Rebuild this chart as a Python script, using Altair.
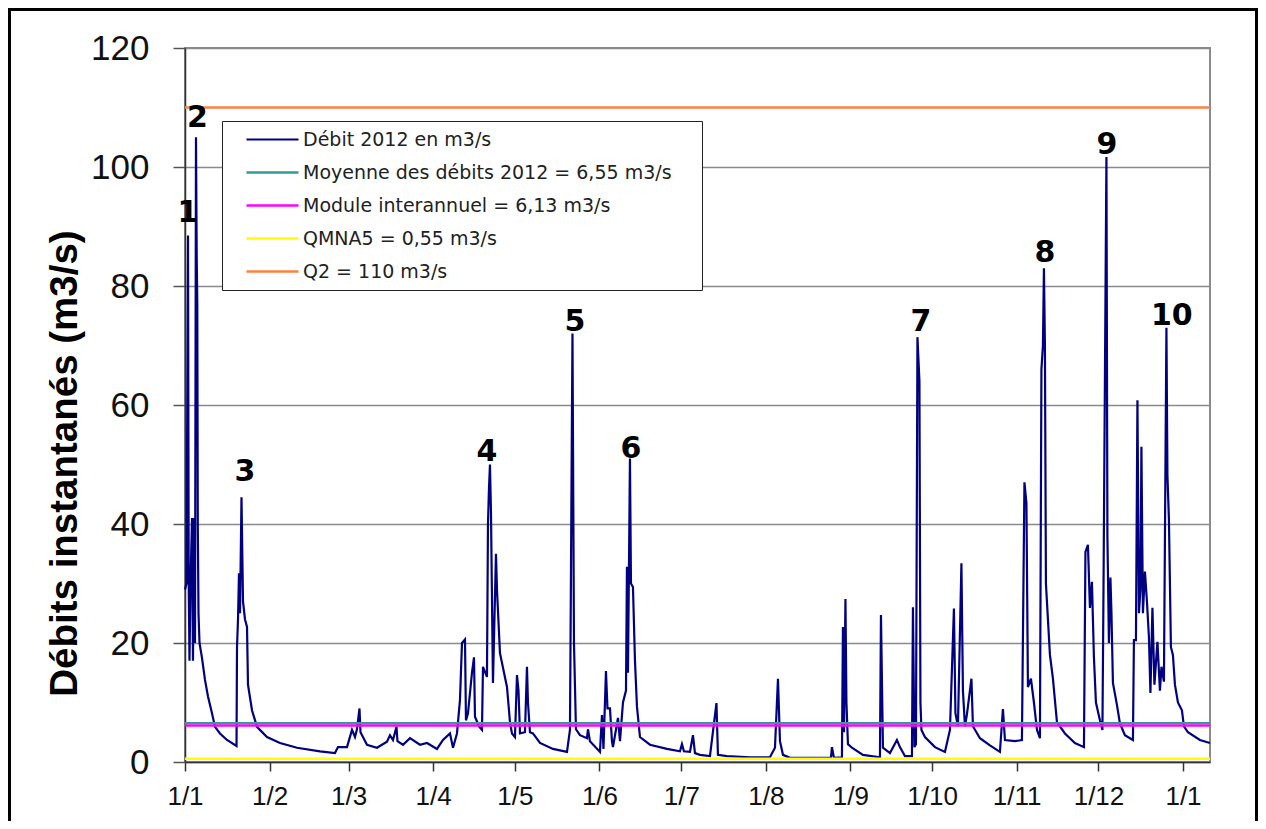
import altair as alt
import pandas as pd

# ---- data ----
# days since 2012-01-01 (fractional), instantaneous flow in m3/s
days = [0.00, 0.55, 0.92, 1.10, 1.36, 1.65, 2.02, 2.57, 2.93, 3.30, 3.67, 4.03, 4.29, 4.51, 4.69,
        4.95, 5.32, 6.23, 7.33, 8.43, 9.90, 11.00, 12.83, 15.40, 18.89, 19.07, 19.44, 19.80, 20.17,
        20.72, 21.27, 22.00, 22.74, 23.10, 24.57, 26.40, 30.07, 34.84, 41.07, 49.50, 55.00, 56.10,
        59.41, 61.24, 62.34, 63.07, 63.99, 64.36, 66.74, 70.41, 74.07, 75.17, 76.27, 77.56, 77.92,
        79.94, 82.51, 86.18, 88.74, 92.41, 94.61, 97.18, 98.28, 99.74, 100.84, 101.58, 102.68,
        103.04, 103.78, 105.24, 105.98, 106.34, 107.81, 108.91, 109.28, 110.74, 111.11, 111.48,
        111.84, 112.21, 112.94, 114.04, 114.41, 115.51, 118.08, 119.18, 119.91, 121.01, 121.75,
        122.30, 122.85, 124.68, 125.41, 125.78, 126.51, 127.61, 130.18, 134.95, 140.08, 141.18,
        142.10, 142.65, 143.38, 144.85, 147.41, 147.78, 148.51, 152.18, 152.92, 153.47, 154.38,
        154.93, 155.85, 156.58, 156.95, 158.78, 159.52, 160.62, 161.72, 162.08, 162.45, 162.82,
        163.18, 163.55, 164.28, 165.02, 165.75, 166.85, 170.52, 176.75, 181.52, 182.25, 182.98,
        185.18, 186.28, 187.02, 188.85, 192.52, 194.90, 195.45, 198.75, 207.19, 214.52, 216.36,
        217.46, 218.19, 219.29, 221.86, 236.89, 237.26, 237.99, 240.92, 241.29, 241.66, 242.21,
        242.57, 243.12, 244.59, 248.62, 254.86, 255.23, 255.96, 258.53, 261.09, 262.19, 264.03,
        266.59, 266.96, 267.51, 268.06, 268.61, 269.34, 269.71, 270.08, 271.36, 275.03, 278.69,
        280.53, 281.99, 282.54, 283.46, 284.74, 285.29, 286.03, 286.76, 288.41, 288.96, 291.53,
        295.20, 298.86, 299.96, 300.70, 304.36, 306.93, 307.85, 308.58, 309.13, 310.23, 311.33,
        312.43, 313.53, 314.08, 314.63, 315.00, 315.36, 315.73, 317.20, 318.30, 319.77, 322.70,
        326.37, 329.67, 330.22, 331.13, 331.87, 332.60, 333.33, 334.07, 335.53, 336.45, 336.82,
        337.92, 338.28, 338.83, 339.38, 339.75, 340.30, 341.77, 342.87, 344.70, 347.64, 348.00,
        348.74, 349.29, 349.84, 350.39, 350.75, 351.30, 352.04, 352.77, 353.50, 354.05, 354.79,
        355.52, 356.62, 357.54, 358.09, 359.00, 359.92, 360.29, 360.84, 361.57, 362.30, 363.04,
        364.14, 365.60, 366.34, 367.81, 372.20, 375.87]
flow = [29, 30, 70, 88.5, 30, 17, 30, 41, 17, 41, 20, 105, 85, 77, 40,
        25, 20, 17.5, 13.8, 11, 8.2, 5.9, 4.8, 3.7, 2.7, 19.3, 24, 31.7, 25,
        44.5, 27, 24, 22.7, 13, 8.7, 5.9, 4.2, 3.2, 2.4, 1.8, 1.5, 2.5,
        2.5, 5.4, 4.2, 5.5, 9, 5, 2.9, 2.4, 3.4, 4.5, 3.7, 5.9, 3.5,
        2.9, 4, 2.9, 3.2, 2.2, 3.7, 4.8, 2.4, 4.8, 10.4, 20, 20.6,
        7, 8.2, 15, 17.6, 7.6, 6, 5.4, 16, 14.3, 40, 46,
        50, 42, 13.3, 35, 29, 18.3, 12.6, 6.7, 4.8, 4.2, 14.6,
        12, 4.8, 5, 16, 10, 5, 4.8, 3.2, 2.2, 1.7, 5.4,
        72, 20, 5.5, 4.5, 4, 5.5, 3.5, 1.7, 7.9, 2.2, 15.3,
        9, 9, 3.5, 2.5, 7.4, 3.5, 10, 12, 32.8, 15, 33,
        51, 30, 29.4, 17, 9.3, 4.2, 2.9, 2.2, 1.8, 3, 1.8,
        1.7, 4.5, 1.5, 1.2, 1, 9.9, 1.2, 1, 0.8, 0.8, 2.4,
        14, 3.5, 1.2, 0.7, 0.7, 2.5, 0.7, 0.8, 22.7, 5, 27.4,
        10, 3, 2.4, 1.2, 0.8, 24.7, 2.4, 1.5, 3.7, 2.5, 1,
        1, 26, 2.5, 3, 71.4, 64, 10, 5.4, 4.2, 2.5, 1.7,
        5.4, 25.8, 8.2, 6, 33.4, 12, 6, 8, 14, 6, 4,
        2.8, 1.7, 8.9, 3.7, 3.5, 3.7, 47, 43.5, 12.6, 14, 10,
        5.4, 4, 66, 70, 83, 70, 30, 18, 14, 6.7, 4.8,
        3.2, 2.5, 35.3, 36.5, 25.9, 30.3, 17.6, 10, 7, 5.4, 27.7,
        101.7, 38, 20, 31, 25.2, 13.3, 9.6, 6.5, 4.5, 3.7, 20.5,
        20.5, 60.8, 25, 29, 53, 25, 32, 27, 21, 11.6, 25.9,
        13, 20.2, 12, 16, 13.5, 73, 48.2, 40.7, 19.3, 18, 13,
        10, 8.7, 6, 5, 3.7, 3.2]

flow_label = "Débit 2012 en m3/s"
ref_labels = ["Moyenne des débits 2012 = 6,55 m3/s",
              "Module interannuel = 6,13 m3/s",
              "QMNA5 = 0,55 m3/s",
              "Q2 = 110 m3/s"]
ref_values = [6.55, 6.13, 0.55, 110]

peak_names = ["1", "2", "3", "4", "5", "6", "7", "8", "9", "10"]
peak_days = [1.1, 4.6, 22.0, 110.7, 143.0, 163.5, 269.9, 315.4, 338.1, 361.9]
peak_label_y = [92.3, 108.2, 48.7, 52.1, 73.9, 52.6, 73.9, 85.5, 103.7, 75.0]

month_ticks = [(2012, m) for m in range(1, 13)] + [(2013, 1)]

# ---- styles ----
series_order = [flow_label] + ref_labels
series_colors = ["#000080", "#339999", "#ff00ff", "#ffff00", "#ff8040"]
series_widths = [2.2, 2.5, 2.5, 3.5, 3]

start = pd.Timestamp("2012-01-01")
flow_df = pd.DataFrame({
    "date": start + pd.to_timedelta(days, unit="D"),
    "debit": flow,
    "serie": flow_label,
})
ref_df = pd.DataFrame({"serie": ref_labels, "debit": ref_values})
peak_df = pd.DataFrame({
    "date": start + pd.to_timedelta(peak_days, unit="D"),
    "y": peak_label_y,
    "label": peak_names,
})

x_scale = alt.Scale(domain=[alt.DateTime(year=2012, month=1, date=1),
                            alt.DateTime(year=2013, month=1, date=10, hours=21, minutes=36)],
                    nice=False)
y_scale = alt.Scale(domain=[0, 120], nice=False)

color_scale = alt.Scale(domain=series_order, range=series_colors)
width_scale = alt.Scale(domain=series_order, range=series_widths)

legend = alt.Legend(
    orient="none", legendX=37, legendY=73, title=None,
    symbolType="stroke", symbolSize=2704, symbolStrokeWidth=3,
    labelFont="DejaVu Sans", labelFontSize=19, labelColor="#222",
    labelOffset=3, labelLimit=1000,
    labelExpr="datum.label + '\u2800\u2800'",
    fillColor="white", strokeColor="#222",
    padding=2, symbolOffset=21, rowPadding=0, clipHeight=33,
)

x_axis = alt.Axis(
    values=[alt.DateTime(year=y, month=m, date=1) for (y, m) in month_ticks],
    format="%-d/%-m", title=None,
    labelFont="Liberation Sans", labelFontSize=26, labelColor="#111",
    labelPadding=12, tickSize=9, tickColor="#333", tickWidth=1.5,
    domainColor="#333", domainWidth=1.5, grid=False,
    labelOverlap=False, labelFlush=False,
)
y_axis = alt.Axis(
    values=list(range(0, 121, 20)),
    title="Débits instantanés (m3/s)",
    titleFont="Liberation Sans", titleFontSize=38.5, titleFontWeight="bold",
    titleColor="#000", titleX=-121, titleY=415, titleAngle=270,
    titleAlign="center", titleBaseline="middle",
    labelFont="Liberation Sans", labelFontSize=35, labelColor="#111",
    labelPadding=24, tickSize=12, tickColor="#555", tickWidth=1.5,
    domainColor="#333", domainWidth=1.5,
    grid=True, gridColor="#8a8a8a", gridWidth=1.5,
)

frame = alt.Chart(pd.DataFrame({"k": [0]})).mark_rect(
    fillOpacity=0, stroke="black", strokeWidth=3, clip=False
).encode(
    x=alt.value(-175.5), x2=alt.value(1071.5),
    y=alt.value(-38.5), y2=alt.value(800),
)

flow_line = alt.Chart(flow_df).mark_line(strokeWidth=2.2, interpolate="linear").encode(
    x=alt.X("date:T", scale=x_scale, axis=x_axis),
    y=alt.Y("debit:Q", scale=y_scale, axis=y_axis),
    color=alt.Color("serie:N", scale=color_scale, legend=legend),
)

ref_rules = alt.Chart(ref_df).mark_rule().encode(
    y=alt.Y("debit:Q", scale=y_scale),
    color=alt.Color("serie:N", scale=color_scale, legend=legend),
    strokeWidth=alt.StrokeWidth("serie:N", scale=width_scale, legend=None),
)

peak_text = alt.Chart(peak_df).mark_text(
    font="DejaVu Sans", fontSize=30, fontWeight="bold", color="black",
    align="center", baseline="middle",
).encode(
    x=alt.X("date:T", scale=x_scale),
    y=alt.Y("y:Q", scale=y_scale),
    text="label:N",
)

chart = alt.layer(frame, flow_line, ref_rules, peak_text).properties(
    width=1025, height=714,
    autosize=alt.AutoSizeParams(type="none"),
    padding={"left": 177, "top": 40, "right": 48, "bottom": 59},
    background="white",
).configure_view(
    stroke="#8a8a8a", strokeWidth=2,
)

chart.save("out.html", embed_options={"renderer": "svg", "actions": False})
